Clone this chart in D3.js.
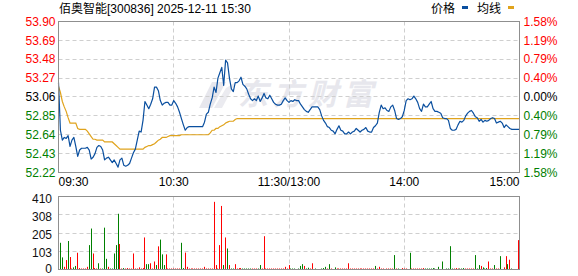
<!DOCTYPE html>
<html><head><meta charset="utf-8">
<script src="https://cdn.jsdelivr.net/npm/d3@7"></script>
<style>html,body{margin:0;padding:0;background:#fff;} svg{display:block}</style>
</head><body>
<svg id="c" width="578" height="276"></svg>
<script>
const titleText = "佰奥智能[300836] 2025-12-11 15:30";
const legendNames = ["价格", "均线"];
const watermarkText = "东方财富";
const timeLabels = ["09:30", "10:30", "11:30/13:00", "14:00", "15:00"];
const timeIdx = [0, 60, 120, 180, 240];
const prevClose = 53.06;
const priceTicks = [53.90, 53.69, 53.48, 53.27, 53.06, 52.85, 52.64, 52.43, 52.22];
const priceLabels = ["53.90", "53.69", "53.48", "53.27", "53.06", "52.85", "52.64", "52.43", "52.22"];
const pctLabels = ["1.58%", "1.19%", "0.79%", "0.40%", "0.00%", "0.40%", "0.79%", "1.19%", "1.58%"];
const volTicks = [410, 308, 205, 103, 0];
const volLabels = ["410", "308", "205", "103", "0"];

const price = [
  53.22,52.69,52.58,52.61,52.60,52.63,52.51,52.58,52.61,52.51,
  52.40,52.47,52.49,52.49,52.49,52.50,52.47,52.37,52.39,52.43,
  52.50,52.52,52.51,52.47,52.36,52.38,52.39,52.36,52.33,52.36,
  52.32,52.28,52.36,52.38,52.30,52.29,52.30,52.32,52.38,52.44,
  52.48,52.58,52.68,52.67,52.80,53.01,52.97,52.93,52.98,53.04,
  53.17,53.17,53.13,53.02,52.97,52.99,53.00,53.00,52.97,52.97,
  53.02,52.99,52.95,52.89,52.82,52.75,52.69,52.72,52.73,52.73,
  52.73,52.73,52.73,52.73,52.73,52.73,52.78,52.87,52.89,52.98,
  53.05,53.17,53.11,53.27,53.33,53.39,53.19,53.47,53.44,53.27,
  53.15,53.12,53.22,53.22,53.24,53.28,53.20,53.18,53.15,53.09,
  53.04,53.02,53.04,53.02,53.07,53.01,53.05,53.10,53.05,53.04,
  53.08,53.04,53.00,52.98,52.97,52.97,52.98,53.02,53.05,53.02,
  53.00,53.02,53.01,53.03,53.02,53.02,52.98,52.95,52.92,52.90,
  52.89,52.92,52.95,52.95,52.95,52.95,52.92,52.85,52.80,52.77,
  52.73,52.72,52.69,52.68,52.65,52.70,52.74,52.69,52.68,52.65,
  52.65,52.67,52.65,52.67,52.68,52.71,52.69,52.67,52.69,52.70,
  52.72,52.68,52.67,52.67,52.72,52.74,52.77,52.89,52.97,52.93,
  52.94,52.91,52.90,52.95,52.97,52.91,52.82,52.81,52.82,52.84,
  52.91,53.02,53.04,53.03,53.04,53.07,53.04,53.00,52.93,52.90,
  52.98,52.95,52.95,52.98,53.01,52.93,52.90,52.90,52.89,52.88,
  52.83,52.82,52.82,52.80,52.71,52.69,52.69,52.70,52.75,52.79,
  52.78,52.80,52.85,52.88,52.90,52.91,52.88,52.84,52.83,52.79,
  52.81,52.78,52.80,52.79,52.80,52.82,52.83,52.82,52.77,52.78,
  52.79,52.77,52.72,52.75,52.73,52.71,52.70,52.70,52.70,52.70,
  52.70
];

const avgPrice = [
  53.18,53.11,53.01,52.95,52.90,52.83,52.77,52.77,52.77,52.77,
  52.71,52.70,52.70,52.70,52.70,52.68,52.65,52.62,52.59,52.59,
  52.58,52.58,52.58,52.58,52.56,52.56,52.56,52.56,52.56,52.54,
  52.52,52.50,52.48,52.48,52.48,52.48,52.48,52.48,52.48,52.48,
  52.48,52.48,52.48,52.48,52.48,52.50,52.51,52.52,52.52,52.53,
  52.54,52.56,52.58,52.59,52.61,52.61,52.61,52.62,52.63,52.63,
  52.63,52.63,52.63,52.63,52.64,52.64,52.64,52.64,52.64,52.64,
  52.64,52.64,52.64,52.64,52.64,52.64,52.64,52.64,52.64,52.66,
  52.69,52.69,52.71,52.71,52.73,52.74,52.75,52.77,52.78,52.79,
  52.79,52.79,52.81,52.82,52.82,52.82,52.82,52.82,52.82,52.82,
  52.82,52.82,52.82,52.82,52.82,52.82,52.82,52.82,52.82,52.82,
  52.82,52.82,52.82,52.82,52.82,52.82,52.82,52.82,52.82,52.82,
  52.82,52.82,52.82,52.82,52.82,52.82,52.82,52.82,52.82,52.82,
  52.82,52.82,52.82,52.82,52.82,52.82,52.82,52.82,52.82,52.82,
  52.82,52.82,52.82,52.82,52.82,52.82,52.82,52.82,52.82,52.82,
  52.82,52.82,52.82,52.82,52.82,52.82,52.82,52.82,52.82,52.82,
  52.82,52.82,52.82,52.82,52.82,52.82,52.82,52.82,52.82,52.82,
  52.82,52.82,52.82,52.82,52.82,52.82,52.82,52.82,52.82,52.82,
  52.82,52.82,52.82,52.82,52.82,52.82,52.82,52.82,52.82,52.82,
  52.82,52.82,52.82,52.82,52.82,52.82,52.82,52.82,52.82,52.82,
  52.82,52.82,52.82,52.82,52.82,52.82,52.82,52.82,52.82,52.82,
  52.82,52.82,52.82,52.82,52.82,52.82,52.82,52.82,52.82,52.82,
  52.82,52.82,52.82,52.82,52.82,52.82,52.82,52.82,52.82,52.82,
  52.82,52.82,52.82,52.82,52.82,52.82,52.82,52.82,52.82,52.82,
  52.82
];

const volume = [
  40,150,68,15,53,160,70,5,12,20,
  94,8,5,5,5,15,137,230,90,8,
  5,35,5,5,235,60,15,5,5,90,
  137,313,143,5,8,5,8,5,5,90,
  5,5,12,5,8,180,30,30,35,5,
  45,25,130,168,85,25,85,5,5,5,
  5,5,5,5,150,8,95,15,5,5,
  5,5,5,5,5,5,15,5,5,5,
  5,380,25,5,137,357,25,180,118,25,
  5,5,30,5,8,8,5,5,5,5,
  5,5,5,5,5,25,5,187,5,5,
  5,5,5,5,5,5,5,5,15,5,
  25,5,5,5,0,5,20,30,20,5,
  10,5,35,0,5,0,0,5,8,15,
  5,30,5,0,12,5,5,5,5,5,
  5,35,5,5,5,5,5,5,5,5,
  5,5,5,5,5,20,5,15,5,5,
  0,5,5,5,5,81,5,5,0,8,
  5,5,0,94,5,5,5,5,5,5,
  8,5,5,5,5,8,5,0,15,0,
  45,0,5,5,131,5,5,8,5,5,
  5,8,5,5,5,5,5,81,5,25,
  20,12,5,8,45,5,5,25,5,5,
  75,0,12,75,30,55,5,0,0,0,
  165
];

// r = up (red), g = down (green)
const volDir = [
  "rggrrgrrgg","rrrrrrggrr","rgrgggrggg","ggrrgrrrrr","rrrrrrggrr",
  "rgrgggrrrr","rrrrggrrrr","rrrrrrrrrr","rrrrrrgrgr","ggrrrrgggg",
  "grrrggrrrr","rrrrrrrrrr","rgggggggrg","grrggggggg","rgrggrrrrr",
  "rrrrrrrrrr","rrrrrgrrrr","rrrrrgrgrr","rrrgrrrrrr","rggggggggg",
  "ggggggrrrg","ggrrrrrggg","rgggrrrgrr","grrrgrgggg","r"
].join("");

const svg = d3.select("#c");
const L = 58.5, R = 519.5, PT = 21.5, PB = 172.5, VT = 196.5, VB = 269.5;
const x = d3.scaleLinear().domain([0, 240]).range([L, R]);
const yP = d3.scaleLinear().domain([52.22, 53.90]).range([PB, PT]);
const yV = d3.scaleLinear().domain([0, 410]).range([VB, VT]);

const RED = "#ff0000", GREEN = "#008000", GRID = "#cfcfcf", FRAME = "#8f8f8f";
const BLUE = "#0a4f9f", GOLD = "#e0a31c";
const numFont = "'Liberation Sans', Arial, sans-serif";
const cjkFont = "'Liberation Sans', 'Noto Sans CJK SC', sans-serif";

// watermark
const wm = svg.append("g").attr("fill", "#e7e7ed");
wm.append("path").attr("d", "M212,82 L226,82 L212,108 L199,108 Z");
wm.append("path").attr("d", "M226,88 L236,82 L222,108 L214,108 Z").attr("opacity", 0.85);
wm.append("text").attr("x", 238).attr("y", 105)
  .attr("font-family", "'Noto Sans CJK SC', sans-serif").attr("font-weight", "bold")
  .attr("font-size", 30).attr("letter-spacing", 5).attr("font-style", "italic")
  .text(watermarkText);

// grid
const grid = svg.append("g").attr("stroke", GRID).attr("stroke-width", 1).attr("stroke-dasharray", "4,3");
priceTicks.slice(1, -1).forEach(t => {
  const yy = Math.round(yP(t) - 0.5) + 0.5;
  grid.append("line").attr("x1", L).attr("x2", R).attr("y1", yy).attr("y2", yy);
});
volTicks.slice(1, -1).forEach(t => {
  const yy = Math.round(yV(t) - 0.5) + 0.5;
  grid.append("line").attr("x1", L).attr("x2", R).attr("y1", yy).attr("y2", yy);
});
timeIdx.slice(1, -1).forEach(i => {
  const xx = Math.round(x(i) - 0.5) + 0.5;
  grid.append("line").attr("x1", xx).attr("x2", xx).attr("y1", PT).attr("y2", PB);
  grid.append("line").attr("x1", xx).attr("x2", xx).attr("y1", VT).attr("y2", VB);
});

// volume bars
svg.append("g").selectAll("rect").data(volume).join("rect")
  .attr("x", (d, i) => Math.min(Math.floor(x(i)), 518))
  .attr("width", 1)
  .attr("y", d => d > 0 ? Math.min(yV(d), VB - 1) : VB)
  .attr("height", d => d > 0 ? Math.max(VB - yV(d), 1) : 0)
  .attr("fill", (d, i) => volDir[i] === "r" ? RED : GREEN);

// lines
const line = d3.line().x((d, i) => x(i)).y(d => yP(d));
svg.append("path").datum(avgPrice).attr("d", line).attr("fill", "none")
  .attr("stroke", GOLD).attr("stroke-width", 1.2);
svg.append("path").datum(price).attr("d", line).attr("fill", "none")
  .attr("stroke", BLUE).attr("stroke-width", 1.2).attr("stroke-linejoin", "round");

// frames
svg.append("rect").attr("x", L).attr("y", PT).attr("width", R - L).attr("height", PB - PT)
  .attr("fill", "none").attr("stroke", FRAME);
svg.append("rect").attr("x", L).attr("y", VT).attr("width", R - L).attr("height", VB - VT)
  .attr("fill", "none").attr("stroke", FRAME);

// price labels
const colorFor = t => t > prevClose + 1e-9 ? RED : (t < prevClose - 1e-9 ? GREEN : "#000");
svg.append("g").selectAll("text").data(priceTicks).join("text")
  .attr("x", 55.5).attr("y", d => yP(d)).attr("dy", "0.35em")
  .attr("text-anchor", "end").attr("font-family", numFont).attr("font-size", 12)
  .attr("fill", colorFor).text((d, i) => priceLabels[i]);
svg.append("g").selectAll("text").data(priceTicks).join("text")
  .attr("x", 523.5).attr("y", d => yP(d)).attr("dy", "0.35em")
  .attr("text-anchor", "start").attr("font-family", numFont).attr("font-size", 12)
  .attr("fill", colorFor).text((d, i) => pctLabels[i]);

// volume labels (baseline a little below each gridline, kept inside the picture)
svg.append("g").selectAll("text").data(volTicks).join("text")
  .attr("x", 52).attr("y", d => Math.min(yV(d) + 6.2, 273))
  .attr("text-anchor", "end").attr("font-family", numFont).attr("font-size", 12)
  .attr("fill", "#111").text((d, i) => volLabels[i]);

// time labels
svg.append("g").selectAll("text").data(timeIdx).join("text")
  .attr("x", (d, i) => i === 0 ? L : (i === timeIdx.length - 1 ? R : x(d)))
  .attr("y", 186)
  .attr("text-anchor", (d, i) => i === 0 ? "start" : (i === timeIdx.length - 1 ? "end" : "middle"))
  .attr("font-family", numFont).attr("font-size", 12).attr("fill", "#000")
  .text((d, i) => timeLabels[i]);

// title
svg.append("text").attr("x", 59).attr("y", 13).attr("font-family", cjkFont)
  .attr("font-size", 12).attr("fill", "#000").text(titleText);

// legend
svg.append("text").attr("x", 431).attr("y", 13).attr("font-family", cjkFont)
  .attr("font-size", 12).attr("fill", "#000").text(legendNames[0]);
svg.append("rect").attr("x", 462).attr("y", 6).attr("width", 6).attr("height", 3).attr("fill", BLUE);
svg.append("text").attr("x", 477).attr("y", 13).attr("font-family", cjkFont)
  .attr("font-size", 12).attr("fill", "#000").text(legendNames[1]);
svg.append("rect").attr("x", 508).attr("y", 6).attr("width", 6).attr("height", 3).attr("fill", GOLD);
</script>
</body></html>
